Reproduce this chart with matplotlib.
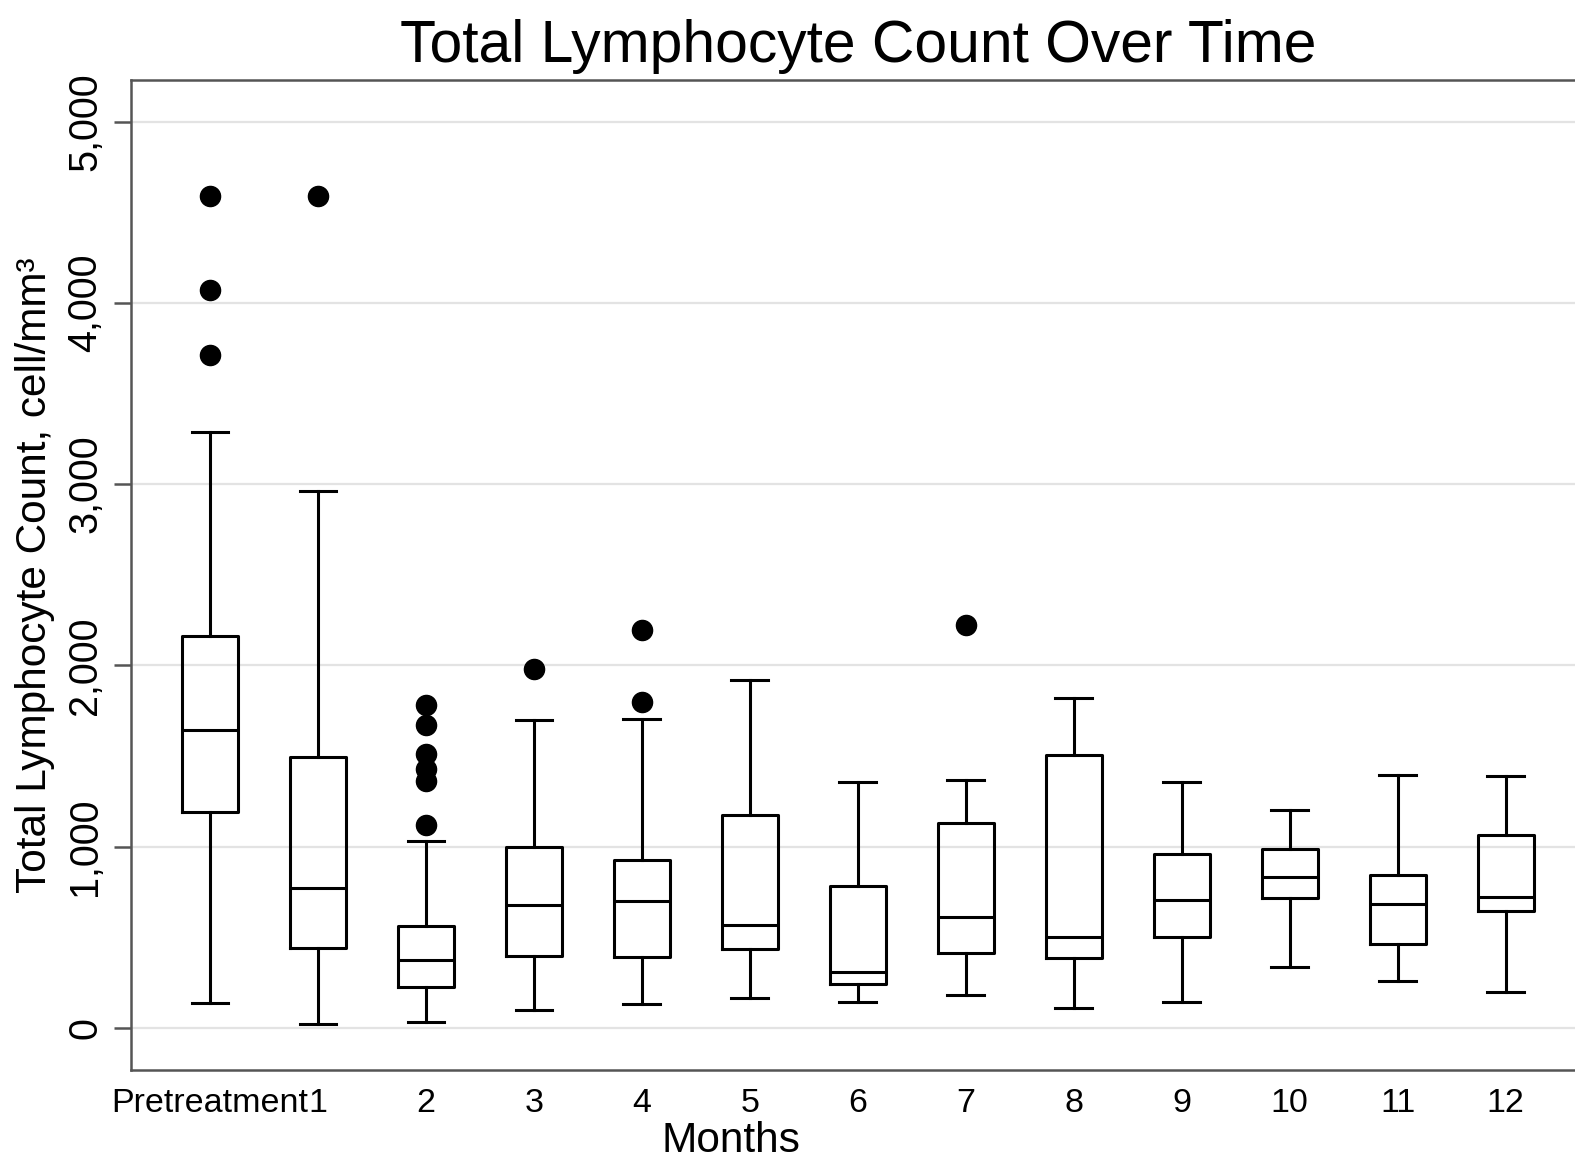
import numpy as np
import matplotlib.pyplot as plt

plt.rcParams['font.family'] = ['Liberation Sans', 'DejaVu Sans']

# datos (celulas/mm3)
grupos = ["Pretreatment", "1", "2", "3", "4", "5", "6", "7", "8", "9", "10", "11", "12"]
bigote_inf = [137, 23, 33, 97, 131, 162, 144, 181, 111, 142, 337, 258, 195]
q1 = [1189, 439, 223, 397, 392, 434, 243, 415, 383, 503, 718, 460, 646]
mediana = [1641, 773, 374, 676, 699, 566, 310, 612, 501, 705, 834, 681, 724]
q3 = [2160, 1493, 559, 998, 928, 1176, 783, 1128, 1506, 958, 987, 843, 1064]
bigote_sup = [3289, 2960, 1029, 1700, 1706, 1917, 1355, 1368, 1819, 1355, 1199, 1396, 1387]
atipicos = [[4590, 4073, 3710], [4591], [1780, 1670, 1510, 1430, 1360, 1120],
            [1982], [2197, 1798], [], [], [2221], [], [], [], [], []]

stats = []
for i in range(len(grupos)):
    stats.append({"label": grupos[i], "whislo": bigote_inf[i], "q1": q1[i],
                  "med": mediana[i], "q3": q3[i], "whishi": bigote_sup[i],
                  "fliers": atipicos[i]})

fig = plt.figure(figsize=(15.75, 11.61), dpi=100)
ax = fig.add_axes([130.6/1575, 1-1070/1161, (1585-130.6)/1575, (1070-80)/1161])

lw = 2.2
ax.bxp(stats, positions=np.arange(len(grupos)), widths=0.52, capwidths=0.34,
       boxprops=dict(color="black", linewidth=lw),
       medianprops=dict(color="black", linewidth=lw),
       whiskerprops=dict(color="black", linewidth=lw),
       capprops=dict(color="black", linewidth=lw),
       flierprops=dict(marker="o", markerfacecolor="black", markeredgecolor="black",
                       markersize=14.5))

ax.set_xlim(-0.735, 12.735)
ax.set_ylim(-233, 5230)
ax.set_yticks([0, 1000, 2000, 3000, 4000, 5000])
ax.set_yticklabels(["0", "1,000", "2,000", "3,000", "4,000", "5,000"])
ax.grid(axis="y", color="#e3e3e3", linewidth=1.6)
ax.set_axisbelow(True)

for s in ["left", "top", "bottom"]:
    ax.spines[s].set_color("#555555")
    ax.spines[s].set_linewidth(1.8)
ax.spines["right"].set_visible(False)

ax.tick_params(axis="y", length=12, width=1.8, color="#555555", labelsize=28.5, pad=7)
ax.tick_params(axis="x", length=0, labelsize=24.5, pad=13)
plt.setp(ax.get_yticklabels(), rotation=90, va="center")

ax.set_title("Total Lymphocyte Count Over Time", fontsize=42.3, pad=13)
ax.set_ylabel("Total Lymphocyte Count, cell/mm³", fontsize=30.5, va="center")
ax.yaxis.set_label_coords(-0.066, 0.5)
ax.set_xlabel("Months", fontsize=30.5)
ax.xaxis.set_label_coords(0.413, -0.052)

fig.savefig("out.png", dpi=100)
